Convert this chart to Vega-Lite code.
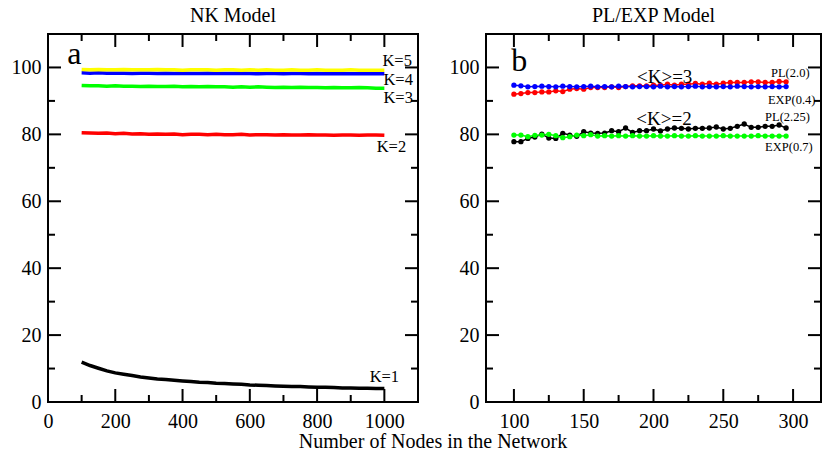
{
  "$schema": "https://vega.github.io/schema/vega-lite/v6.json",
  "padding": {"left": 10, "top": 5, "right": 0, "bottom": 5},
  "spacing": 29,
  "resolve": {"scale": {"color": "independent"}},
  "title": {"text": "Number of Nodes in the Network", "orient": "bottom", "anchor": "middle", "dx": 17, "offset": 0, "fontSize": 20},
  "datasets": {
    "nkx": [{"t":100,"k":"minor"},{"t":200,"k":"major"},{"t":300,"k":"minor"},{"t":400,"k":"major"},{"t":500,"k":"minor"},{"t":600,"k":"major"},{"t":700,"k":"minor"},{"t":800,"k":"major"},{"t":900,"k":"minor"},{"t":1000,"k":"major"}],
    "pex": [{"t":100,"k":"major"},{"t":125,"k":"minor"},{"t":150,"k":"major"},{"t":175,"k":"minor"},{"t":200,"k":"major"},{"t":225,"k":"minor"},{"t":250,"k":"major"},{"t":275,"k":"minor"},{"t":300,"k":"major"}],
    "yt": [{"t":10,"k":"minor"},{"t":20,"k":"major"},{"t":30,"k":"minor"},{"t":40,"k":"major"},{"t":50,"k":"minor"},{"t":60,"k":"major"},{"t":70,"k":"minor"},{"t":80,"k":"major"},{"t":90,"k":"minor"},{"t":100,"k":"major"}],
    "nk": [
      {"N":100,"v":11.9,"s":"K=1"},{"N":125,"v":10.9,"s":"K=1"},{"N":150,"v":10.1,"s":"K=1"},{"N":175,"v":9.3,"s":"K=1"},{"N":200,"v":8.7,"s":"K=1"},{"N":225,"v":8.3,"s":"K=1"},{"N":250,"v":7.9,"s":"K=1"},{"N":275,"v":7.5,"s":"K=1"},{"N":300,"v":7.2,"s":"K=1"},{"N":325,"v":6.9,"s":"K=1"},{"N":350,"v":6.7,"s":"K=1"},{"N":375,"v":6.5,"s":"K=1"},{"N":400,"v":6.3,"s":"K=1"},{"N":425,"v":6.1,"s":"K=1"},{"N":450,"v":5.9,"s":"K=1"},{"N":475,"v":5.8,"s":"K=1"},{"N":500,"v":5.6,"s":"K=1"},{"N":525,"v":5.5,"s":"K=1"},{"N":550,"v":5.4,"s":"K=1"},{"N":575,"v":5.3,"s":"K=1"},{"N":600,"v":5.1,"s":"K=1"},{"N":625,"v":5.0,"s":"K=1"},{"N":650,"v":4.9,"s":"K=1"},{"N":675,"v":4.8,"s":"K=1"},{"N":700,"v":4.7,"s":"K=1"},{"N":725,"v":4.6,"s":"K=1"},{"N":750,"v":4.6,"s":"K=1"},{"N":775,"v":4.5,"s":"K=1"},{"N":800,"v":4.4,"s":"K=1"},{"N":825,"v":4.4,"s":"K=1"},{"N":850,"v":4.3,"s":"K=1"},{"N":875,"v":4.2,"s":"K=1"},{"N":900,"v":4.2,"s":"K=1"},{"N":925,"v":4.1,"s":"K=1"},{"N":950,"v":4.1,"s":"K=1"},{"N":975,"v":4.0,"s":"K=1"},{"N":1000,"v":4.0,"s":"K=1"},
      {"N":100,"v":80.5,"s":"K=2"},{"N":125,"v":80.4,"s":"K=2"},{"N":150,"v":80.3,"s":"K=2"},{"N":175,"v":80.4,"s":"K=2"},{"N":200,"v":80.2,"s":"K=2"},{"N":225,"v":80.3,"s":"K=2"},{"N":250,"v":80.1,"s":"K=2"},{"N":275,"v":80.2,"s":"K=2"},{"N":300,"v":80.0,"s":"K=2"},{"N":325,"v":80.1,"s":"K=2"},{"N":350,"v":80.0,"s":"K=2"},{"N":375,"v":80.1,"s":"K=2"},{"N":400,"v":79.9,"s":"K=2"},{"N":425,"v":80.0,"s":"K=2"},{"N":450,"v":80.0,"s":"K=2"},{"N":475,"v":79.9,"s":"K=2"},{"N":500,"v":80.0,"s":"K=2"},{"N":525,"v":79.9,"s":"K=2"},{"N":550,"v":79.9,"s":"K=2"},{"N":575,"v":80.0,"s":"K=2"},{"N":600,"v":79.8,"s":"K=2"},{"N":625,"v":79.9,"s":"K=2"},{"N":650,"v":79.9,"s":"K=2"},{"N":675,"v":79.8,"s":"K=2"},{"N":700,"v":79.9,"s":"K=2"},{"N":725,"v":79.8,"s":"K=2"},{"N":750,"v":79.8,"s":"K=2"},{"N":775,"v":79.9,"s":"K=2"},{"N":800,"v":79.8,"s":"K=2"},{"N":825,"v":79.8,"s":"K=2"},{"N":850,"v":79.7,"s":"K=2"},{"N":875,"v":79.8,"s":"K=2"},{"N":900,"v":79.8,"s":"K=2"},{"N":925,"v":79.7,"s":"K=2"},{"N":950,"v":79.8,"s":"K=2"},{"N":975,"v":79.8,"s":"K=2"},{"N":1000,"v":79.7,"s":"K=2"},
      {"N":100,"v":94.6,"s":"K=3"},{"N":125,"v":94.5,"s":"K=3"},{"N":150,"v":94.5,"s":"K=3"},{"N":175,"v":94.4,"s":"K=3"},{"N":200,"v":94.5,"s":"K=3"},{"N":225,"v":94.4,"s":"K=3"},{"N":250,"v":94.4,"s":"K=3"},{"N":275,"v":94.3,"s":"K=3"},{"N":300,"v":94.4,"s":"K=3"},{"N":325,"v":94.3,"s":"K=3"},{"N":350,"v":94.3,"s":"K=3"},{"N":375,"v":94.4,"s":"K=3"},{"N":400,"v":94.2,"s":"K=3"},{"N":425,"v":94.3,"s":"K=3"},{"N":450,"v":94.2,"s":"K=3"},{"N":475,"v":94.3,"s":"K=3"},{"N":500,"v":94.2,"s":"K=3"},{"N":525,"v":94.2,"s":"K=3"},{"N":550,"v":94.1,"s":"K=3"},{"N":575,"v":94.2,"s":"K=3"},{"N":600,"v":94.1,"s":"K=3"},{"N":625,"v":94.2,"s":"K=3"},{"N":650,"v":94.1,"s":"K=3"},{"N":675,"v":94.0,"s":"K=3"},{"N":700,"v":94.1,"s":"K=3"},{"N":725,"v":94.0,"s":"K=3"},{"N":750,"v":94.1,"s":"K=3"},{"N":775,"v":94.0,"s":"K=3"},{"N":800,"v":94.0,"s":"K=3"},{"N":825,"v":93.9,"s":"K=3"},{"N":850,"v":94.0,"s":"K=3"},{"N":875,"v":93.9,"s":"K=3"},{"N":900,"v":93.9,"s":"K=3"},{"N":925,"v":94.0,"s":"K=3"},{"N":950,"v":93.9,"s":"K=3"},{"N":975,"v":93.8,"s":"K=3"},{"N":1000,"v":93.8,"s":"K=3"},
      {"N":100,"v":98.4,"s":"K=4"},{"N":125,"v":98.3,"s":"K=4"},{"N":150,"v":98.4,"s":"K=4"},{"N":175,"v":98.3,"s":"K=4"},{"N":200,"v":98.3,"s":"K=4"},{"N":225,"v":98.3,"s":"K=4"},{"N":250,"v":98.2,"s":"K=4"},{"N":275,"v":98.3,"s":"K=4"},{"N":300,"v":98.3,"s":"K=4"},{"N":325,"v":98.2,"s":"K=4"},{"N":350,"v":98.3,"s":"K=4"},{"N":375,"v":98.2,"s":"K=4"},{"N":400,"v":98.3,"s":"K=4"},{"N":425,"v":98.2,"s":"K=4"},{"N":450,"v":98.2,"s":"K=4"},{"N":475,"v":98.3,"s":"K=4"},{"N":500,"v":98.2,"s":"K=4"},{"N":525,"v":98.2,"s":"K=4"},{"N":550,"v":98.2,"s":"K=4"},{"N":575,"v":98.3,"s":"K=4"},{"N":600,"v":98.2,"s":"K=4"},{"N":625,"v":98.1,"s":"K=4"},{"N":650,"v":98.2,"s":"K=4"},{"N":675,"v":98.2,"s":"K=4"},{"N":700,"v":98.1,"s":"K=4"},{"N":725,"v":98.2,"s":"K=4"},{"N":750,"v":98.2,"s":"K=4"},{"N":775,"v":98.1,"s":"K=4"},{"N":800,"v":98.2,"s":"K=4"},{"N":825,"v":98.1,"s":"K=4"},{"N":850,"v":98.1,"s":"K=4"},{"N":875,"v":98.2,"s":"K=4"},{"N":900,"v":98.1,"s":"K=4"},{"N":925,"v":98.1,"s":"K=4"},{"N":950,"v":98.2,"s":"K=4"},{"N":975,"v":98.1,"s":"K=4"},{"N":1000,"v":98.1,"s":"K=4"},
      {"N":100,"v":99.4,"s":"K=5"},{"N":125,"v":99.3,"s":"K=5"},{"N":150,"v":99.4,"s":"K=5"},{"N":175,"v":99.3,"s":"K=5"},{"N":200,"v":99.3,"s":"K=5"},{"N":225,"v":99.4,"s":"K=5"},{"N":250,"v":99.3,"s":"K=5"},{"N":275,"v":99.3,"s":"K=5"},{"N":300,"v":99.3,"s":"K=5"},{"N":325,"v":99.4,"s":"K=5"},{"N":350,"v":99.3,"s":"K=5"},{"N":375,"v":99.3,"s":"K=5"},{"N":400,"v":99.2,"s":"K=5"},{"N":425,"v":99.3,"s":"K=5"},{"N":450,"v":99.3,"s":"K=5"},{"N":475,"v":99.3,"s":"K=5"},{"N":500,"v":99.2,"s":"K=5"},{"N":525,"v":99.3,"s":"K=5"},{"N":550,"v":99.3,"s":"K=5"},{"N":575,"v":99.2,"s":"K=5"},{"N":600,"v":99.3,"s":"K=5"},{"N":625,"v":99.2,"s":"K=5"},{"N":650,"v":99.3,"s":"K=5"},{"N":675,"v":99.2,"s":"K=5"},{"N":700,"v":99.2,"s":"K=5"},{"N":725,"v":99.3,"s":"K=5"},{"N":750,"v":99.2,"s":"K=5"},{"N":775,"v":99.2,"s":"K=5"},{"N":800,"v":99.3,"s":"K=5"},{"N":825,"v":99.2,"s":"K=5"},{"N":850,"v":99.2,"s":"K=5"},{"N":875,"v":99.2,"s":"K=5"},{"N":900,"v":99.3,"s":"K=5"},{"N":925,"v":99.2,"s":"K=5"},{"N":950,"v":99.2,"s":"K=5"},{"N":975,"v":99.2,"s":"K=5"},{"N":1000,"v":99.2,"s":"K=5"}
    ],
    "pe": [
      {"N":100,"v":92.0,"s":"PL(2.0)"},{"N":105,"v":92.2,"s":"PL(2.0)"},{"N":110,"v":92.5,"s":"PL(2.0)"},{"N":115,"v":92.5,"s":"PL(2.0)"},{"N":120,"v":92.7,"s":"PL(2.0)"},{"N":125,"v":92.7,"s":"PL(2.0)"},{"N":130,"v":93.0,"s":"PL(2.0)"},{"N":135,"v":92.8,"s":"PL(2.0)"},{"N":140,"v":93.5,"s":"PL(2.0)"},{"N":145,"v":93.7,"s":"PL(2.0)"},{"N":150,"v":93.5,"s":"PL(2.0)"},{"N":155,"v":94.0,"s":"PL(2.0)"},{"N":160,"v":94.0,"s":"PL(2.0)"},{"N":165,"v":94.0,"s":"PL(2.0)"},{"N":170,"v":94.2,"s":"PL(2.0)"},{"N":175,"v":94.0,"s":"PL(2.0)"},{"N":180,"v":94.3,"s":"PL(2.0)"},{"N":185,"v":94.5,"s":"PL(2.0)"},{"N":190,"v":94.5,"s":"PL(2.0)"},{"N":195,"v":94.5,"s":"PL(2.0)"},{"N":200,"v":94.7,"s":"PL(2.0)"},{"N":205,"v":94.7,"s":"PL(2.0)"},{"N":210,"v":95.0,"s":"PL(2.0)"},{"N":215,"v":94.7,"s":"PL(2.0)"},{"N":220,"v":95.0,"s":"PL(2.0)"},{"N":225,"v":95.0,"s":"PL(2.0)"},{"N":230,"v":95.2,"s":"PL(2.0)"},{"N":235,"v":95.0,"s":"PL(2.0)"},{"N":240,"v":95.3,"s":"PL(2.0)"},{"N":245,"v":95.0,"s":"PL(2.0)"},{"N":250,"v":95.3,"s":"PL(2.0)"},{"N":255,"v":95.5,"s":"PL(2.0)"},{"N":260,"v":95.5,"s":"PL(2.0)"},{"N":265,"v":95.5,"s":"PL(2.0)"},{"N":270,"v":95.7,"s":"PL(2.0)"},{"N":275,"v":95.7,"s":"PL(2.0)"},{"N":280,"v":95.5,"s":"PL(2.0)"},{"N":285,"v":95.5,"s":"PL(2.0)"},{"N":290,"v":95.8,"s":"PL(2.0)"},{"N":295,"v":95.7,"s":"PL(2.0)"},
      {"N":100,"v":94.7,"s":"EXP(0.4)"},{"N":105,"v":94.5,"s":"EXP(0.4)"},{"N":110,"v":94.2,"s":"EXP(0.4)"},{"N":115,"v":94.3,"s":"EXP(0.4)"},{"N":120,"v":94.4,"s":"EXP(0.4)"},{"N":125,"v":94.3,"s":"EXP(0.4)"},{"N":130,"v":94.2,"s":"EXP(0.4)"},{"N":135,"v":94.4,"s":"EXP(0.4)"},{"N":140,"v":94.3,"s":"EXP(0.4)"},{"N":145,"v":94.2,"s":"EXP(0.4)"},{"N":150,"v":94.3,"s":"EXP(0.4)"},{"N":155,"v":94.4,"s":"EXP(0.4)"},{"N":160,"v":94.2,"s":"EXP(0.4)"},{"N":165,"v":94.3,"s":"EXP(0.4)"},{"N":170,"v":94.2,"s":"EXP(0.4)"},{"N":175,"v":94.4,"s":"EXP(0.4)"},{"N":180,"v":94.3,"s":"EXP(0.4)"},{"N":185,"v":94.2,"s":"EXP(0.4)"},{"N":190,"v":94.3,"s":"EXP(0.4)"},{"N":195,"v":94.3,"s":"EXP(0.4)"},{"N":200,"v":94.2,"s":"EXP(0.4)"},{"N":205,"v":94.4,"s":"EXP(0.4)"},{"N":210,"v":94.2,"s":"EXP(0.4)"},{"N":215,"v":94.3,"s":"EXP(0.4)"},{"N":220,"v":94.2,"s":"EXP(0.4)"},{"N":225,"v":94.3,"s":"EXP(0.4)"},{"N":230,"v":94.4,"s":"EXP(0.4)"},{"N":235,"v":94.2,"s":"EXP(0.4)"},{"N":240,"v":94.3,"s":"EXP(0.4)"},{"N":245,"v":94.2,"s":"EXP(0.4)"},{"N":250,"v":94.3,"s":"EXP(0.4)"},{"N":255,"v":94.2,"s":"EXP(0.4)"},{"N":260,"v":94.4,"s":"EXP(0.4)"},{"N":265,"v":94.3,"s":"EXP(0.4)"},{"N":270,"v":94.2,"s":"EXP(0.4)"},{"N":275,"v":94.3,"s":"EXP(0.4)"},{"N":280,"v":94.2,"s":"EXP(0.4)"},{"N":285,"v":94.3,"s":"EXP(0.4)"},{"N":290,"v":94.2,"s":"EXP(0.4)"},{"N":295,"v":94.3,"s":"EXP(0.4)"},
      {"N":100,"v":77.8,"s":"PL(2.25)"},{"N":105,"v":77.8,"s":"PL(2.25)"},{"N":110,"v":78.8,"s":"PL(2.25)"},{"N":115,"v":79.2,"s":"PL(2.25)"},{"N":120,"v":80.1,"s":"PL(2.25)"},{"N":125,"v":78.9,"s":"PL(2.25)"},{"N":130,"v":78.8,"s":"PL(2.25)"},{"N":135,"v":80.3,"s":"PL(2.25)"},{"N":140,"v":79.8,"s":"PL(2.25)"},{"N":145,"v":79.4,"s":"PL(2.25)"},{"N":150,"v":80.8,"s":"PL(2.25)"},{"N":155,"v":80.4,"s":"PL(2.25)"},{"N":160,"v":80.3,"s":"PL(2.25)"},{"N":165,"v":80.4,"s":"PL(2.25)"},{"N":170,"v":81.1,"s":"PL(2.25)"},{"N":175,"v":80.8,"s":"PL(2.25)"},{"N":180,"v":81.9,"s":"PL(2.25)"},{"N":185,"v":80.6,"s":"PL(2.25)"},{"N":190,"v":81.1,"s":"PL(2.25)"},{"N":195,"v":81.1,"s":"PL(2.25)"},{"N":200,"v":81.6,"s":"PL(2.25)"},{"N":205,"v":81.0,"s":"PL(2.25)"},{"N":210,"v":81.6,"s":"PL(2.25)"},{"N":215,"v":81.9,"s":"PL(2.25)"},{"N":220,"v":81.8,"s":"PL(2.25)"},{"N":225,"v":81.6,"s":"PL(2.25)"},{"N":230,"v":81.8,"s":"PL(2.25)"},{"N":235,"v":81.8,"s":"PL(2.25)"},{"N":240,"v":81.9,"s":"PL(2.25)"},{"N":245,"v":82.2,"s":"PL(2.25)"},{"N":250,"v":81.6,"s":"PL(2.25)"},{"N":255,"v":81.8,"s":"PL(2.25)"},{"N":260,"v":82.4,"s":"PL(2.25)"},{"N":265,"v":83.1,"s":"PL(2.25)"},{"N":270,"v":82.1,"s":"PL(2.25)"},{"N":275,"v":82.1,"s":"PL(2.25)"},{"N":280,"v":82.4,"s":"PL(2.25)"},{"N":285,"v":82.4,"s":"PL(2.25)"},{"N":290,"v":82.8,"s":"PL(2.25)"},{"N":295,"v":81.9,"s":"PL(2.25)"},
      {"N":100,"v":79.8,"s":"EXP(0.7)"},{"N":105,"v":79.8,"s":"EXP(0.7)"},{"N":110,"v":79.3,"s":"EXP(0.7)"},{"N":115,"v":79.7,"s":"EXP(0.7)"},{"N":120,"v":79.8,"s":"EXP(0.7)"},{"N":125,"v":80.0,"s":"EXP(0.7)"},{"N":130,"v":79.6,"s":"EXP(0.7)"},{"N":135,"v":79.0,"s":"EXP(0.7)"},{"N":140,"v":79.3,"s":"EXP(0.7)"},{"N":145,"v":79.8,"s":"EXP(0.7)"},{"N":150,"v":79.6,"s":"EXP(0.7)"},{"N":155,"v":79.9,"s":"EXP(0.7)"},{"N":160,"v":79.5,"s":"EXP(0.7)"},{"N":165,"v":79.6,"s":"EXP(0.7)"},{"N":170,"v":79.5,"s":"EXP(0.7)"},{"N":175,"v":79.6,"s":"EXP(0.7)"},{"N":180,"v":79.5,"s":"EXP(0.7)"},{"N":185,"v":79.6,"s":"EXP(0.7)"},{"N":190,"v":79.5,"s":"EXP(0.7)"},{"N":195,"v":79.5,"s":"EXP(0.7)"},{"N":200,"v":79.6,"s":"EXP(0.7)"},{"N":205,"v":79.5,"s":"EXP(0.7)"},{"N":210,"v":79.5,"s":"EXP(0.7)"},{"N":215,"v":79.6,"s":"EXP(0.7)"},{"N":220,"v":79.5,"s":"EXP(0.7)"},{"N":225,"v":79.5,"s":"EXP(0.7)"},{"N":230,"v":79.6,"s":"EXP(0.7)"},{"N":235,"v":79.5,"s":"EXP(0.7)"},{"N":240,"v":79.5,"s":"EXP(0.7)"},{"N":245,"v":79.5,"s":"EXP(0.7)"},{"N":250,"v":79.6,"s":"EXP(0.7)"},{"N":255,"v":79.5,"s":"EXP(0.7)"},{"N":260,"v":79.5,"s":"EXP(0.7)"},{"N":265,"v":79.5,"s":"EXP(0.7)"},{"N":270,"v":79.5,"s":"EXP(0.7)"},{"N":275,"v":79.6,"s":"EXP(0.7)"},{"N":280,"v":79.5,"s":"EXP(0.7)"},{"N":285,"v":79.5,"s":"EXP(0.7)"},{"N":290,"v":79.5,"s":"EXP(0.7)"},{"N":295,"v":79.5,"s":"EXP(0.7)"}
    ]
  },
  "hconcat": [
    {
      "width": 370,
      "height": 368,
      "title": {"text": "NK Model", "offset": 8},
      "layer": [
        {
          "data": {"name": "nk"},
          "mark": {"type": "line", "strokeWidth": 3.5},
          "encoding": {
            "x": {"field": "N", "type": "quantitative", "title": null, "scale": {"domain": [0, 1100], "nice": false, "padding": 0, "zero": false},
              "axis": {"orient": "bottom", "title": null, "values": [0,200,400,600,800,1000], "format": "d", "labelPadding": 9}},
            "y": {"field": "v", "type": "quantitative", "title": null, "scale": {"domain": [0, 110], "nice": false, "padding": 0, "zero": false},
              "axis": {"orient": "left", "title": null, "values": [0,20,40,60,80,100], "format": "d", "labelPadding": 7}},
            "color": {"field": "s", "type": "nominal", "legend": null,
              "scale": {"domain": ["K=1","K=2","K=3","K=4","K=5"], "range": ["#000000","#ff0000","#00ff00","#0000ff","#ffff00"]}},
            "order": {"field": "N", "type": "quantitative"}
          }
        },
        {
          "data": {"name": "nkx"}, "transform": [{"filter": "datum.k == 'major'"}],
          "mark": {"type": "bar", "orient": "vertical", "width": 2, "color": "black"},
          "encoding": {"x": {"field": "t", "type": "quantitative", "title": null}, "y": {"datum": 0, "type": "quantitative", "title": null}, "y2": {"datum": 3.886}}
        },
        {
          "data": {"name": "nkx"}, "transform": [{"filter": "datum.k == 'major'"}],
          "mark": {"type": "bar", "orient": "vertical", "width": 2, "color": "black"},
          "encoding": {"x": {"field": "t", "type": "quantitative", "title": null}, "y": {"datum": 106.114, "type": "quantitative", "title": null}, "y2": {"datum": 110}}
        },
        {
          "data": {"name": "nkx"}, "transform": [{"filter": "datum.k == 'minor'"}],
          "mark": {"type": "bar", "orient": "vertical", "width": 2, "color": "black"},
          "encoding": {"x": {"field": "t", "type": "quantitative", "title": null}, "y": {"datum": 0, "type": "quantitative", "title": null}, "y2": {"datum": 2.092}}
        },
        {
          "data": {"name": "nkx"}, "transform": [{"filter": "datum.k == 'minor'"}],
          "mark": {"type": "bar", "orient": "vertical", "width": 2, "color": "black"},
          "encoding": {"x": {"field": "t", "type": "quantitative", "title": null}, "y": {"datum": 107.908, "type": "quantitative", "title": null}, "y2": {"datum": 110}}
        },
        {
          "data": {"name": "yt"}, "transform": [{"filter": "datum.k == 'major'"}],
          "mark": {"type": "bar", "orient": "horizontal", "height": 2, "color": "black"},
          "encoding": {"y": {"field": "t", "type": "quantitative", "title": null}, "x": {"datum": 0, "type": "quantitative", "title": null}, "x2": {"datum": 38.65}}
        },
        {
          "data": {"name": "yt"}, "transform": [{"filter": "datum.k == 'major'"}],
          "mark": {"type": "bar", "orient": "horizontal", "height": 2, "color": "black"},
          "encoding": {"y": {"field": "t", "type": "quantitative", "title": null}, "x": {"datum": 1061.35, "type": "quantitative", "title": null}, "x2": {"datum": 1100}}
        },
        {
          "data": {"name": "yt"}, "transform": [{"filter": "datum.k == 'minor'"}],
          "mark": {"type": "bar", "orient": "horizontal", "height": 2, "color": "black"},
          "encoding": {"y": {"field": "t", "type": "quantitative", "title": null}, "x": {"datum": 0, "type": "quantitative", "title": null}, "x2": {"datum": 20.81}}
        },
        {
          "data": {"name": "yt"}, "transform": [{"filter": "datum.k == 'minor'"}],
          "mark": {"type": "bar", "orient": "horizontal", "height": 2, "color": "black"},
          "encoding": {"y": {"field": "t", "type": "quantitative", "title": null}, "x": {"datum": 1079.19, "type": "quantitative", "title": null}, "x2": {"datum": 1100}}
        },
        {
          "data": {"values": [
            {"N": 1038, "v": 102, "t": "K=5"},
            {"N": 1041, "v": 96.3, "t": "K=4"},
            {"N": 1041, "v": 90.8, "t": "K=3"},
            {"N": 1021, "v": 76.2, "t": "K=2"},
            {"N": 1000, "v": 7.5, "t": "K=1"}
          ]},
          "mark": {"type": "text", "fontSize": 16.5, "align": "center", "baseline": "middle", "color": "black"},
          "encoding": {
            "x": {"field": "N", "type": "quantitative", "title": null},
            "y": {"field": "v", "type": "quantitative", "title": null},
            "text": {"field": "t"}
          }
        },
        {
          "data": {"values": [{"N": 78, "v": 104, "t": "a"}]},
          "mark": {"type": "text", "fontSize": 32, "align": "center", "baseline": "middle", "color": "black"},
          "encoding": {
            "x": {"field": "N", "type": "quantitative", "title": null},
            "y": {"field": "v", "type": "quantitative", "title": null},
            "text": {"field": "t"}
          }
        }
      ]
    },
    {
      "width": 335,
      "height": 368,
      "title": {"text": "PL/EXP Model", "offset": 8},
      "layer": [
        {
          "data": {"name": "pe"},
          "mark": {"type": "line", "strokeWidth": 1.5},
          "encoding": {
            "x": {"field": "N", "type": "quantitative", "title": null, "scale": {"domain": [80, 320], "nice": false, "padding": 0, "zero": false},
              "axis": {"orient": "bottom", "title": null, "values": [100,150,200,250,300], "format": "d", "labelPadding": 9}},
            "y": {"field": "v", "type": "quantitative", "title": null, "scale": {"domain": [0, 110], "nice": false, "padding": 0, "zero": false},
              "axis": {"orient": "left", "title": null, "values": [0,20,40,60,80,100], "format": "d", "labelPadding": 7}},
            "color": {"field": "s", "type": "nominal", "legend": null,
              "scale": {"domain": ["PL(2.0)","EXP(0.4)","PL(2.25)","EXP(0.7)"], "range": ["#ff0000","#0000ff","#000000","#00ff00"]}},
            "order": {"field": "N", "type": "quantitative"}
          }
        },
        {
          "data": {"name": "pe"},
          "mark": {"type": "point", "filled": true, "size": 28, "opacity": 1},
          "encoding": {
            "x": {"field": "N", "type": "quantitative", "title": null},
            "y": {"field": "v", "type": "quantitative", "title": null},
            "color": {"field": "s", "type": "nominal", "legend": null,
              "scale": {"domain": ["PL(2.0)","EXP(0.4)","PL(2.25)","EXP(0.7)"], "range": ["#ff0000","#0000ff","#000000","#00ff00"]}}
          }
        },
        {
          "data": {"name": "pex"}, "transform": [{"filter": "datum.k == 'major'"}],
          "mark": {"type": "bar", "orient": "vertical", "width": 2, "color": "black"},
          "encoding": {"x": {"field": "t", "type": "quantitative", "title": null}, "y": {"datum": 0, "type": "quantitative", "title": null}, "y2": {"datum": 3.886}}
        },
        {
          "data": {"name": "pex"}, "transform": [{"filter": "datum.k == 'major'"}],
          "mark": {"type": "bar", "orient": "vertical", "width": 2, "color": "black"},
          "encoding": {"x": {"field": "t", "type": "quantitative", "title": null}, "y": {"datum": 106.114, "type": "quantitative", "title": null}, "y2": {"datum": 110}}
        },
        {
          "data": {"name": "pex"}, "transform": [{"filter": "datum.k == 'minor'"}],
          "mark": {"type": "bar", "orient": "vertical", "width": 2, "color": "black"},
          "encoding": {"x": {"field": "t", "type": "quantitative", "title": null}, "y": {"datum": 0, "type": "quantitative", "title": null}, "y2": {"datum": 2.092}}
        },
        {
          "data": {"name": "pex"}, "transform": [{"filter": "datum.k == 'minor'"}],
          "mark": {"type": "bar", "orient": "vertical", "width": 2, "color": "black"},
          "encoding": {"x": {"field": "t", "type": "quantitative", "title": null}, "y": {"datum": 107.908, "type": "quantitative", "title": null}, "y2": {"datum": 110}}
        },
        {
          "data": {"name": "yt"}, "transform": [{"filter": "datum.k == 'major'"}],
          "mark": {"type": "bar", "orient": "horizontal", "height": 2, "color": "black"},
          "encoding": {"y": {"field": "t", "type": "quantitative", "title": null}, "x": {"datum": 80, "type": "quantitative", "title": null}, "x2": {"datum": 89.31}}
        },
        {
          "data": {"name": "yt"}, "transform": [{"filter": "datum.k == 'major'"}],
          "mark": {"type": "bar", "orient": "horizontal", "height": 2, "color": "black"},
          "encoding": {"y": {"field": "t", "type": "quantitative", "title": null}, "x": {"datum": 310.69, "type": "quantitative", "title": null}, "x2": {"datum": 320}}
        },
        {
          "data": {"name": "yt"}, "transform": [{"filter": "datum.k == 'minor'"}],
          "mark": {"type": "bar", "orient": "horizontal", "height": 2, "color": "black"},
          "encoding": {"y": {"field": "t", "type": "quantitative", "title": null}, "x": {"datum": 80, "type": "quantitative", "title": null}, "x2": {"datum": 85.01}}
        },
        {
          "data": {"name": "yt"}, "transform": [{"filter": "datum.k == 'minor'"}],
          "mark": {"type": "bar", "orient": "horizontal", "height": 2, "color": "black"},
          "encoding": {"y": {"field": "t", "type": "quantitative", "title": null}, "x": {"datum": 314.99, "type": "quantitative", "title": null}, "x2": {"datum": 320}}
        },
        {
          "data": {"values": [
            {"N": 208, "v": 97.1, "t": "<K>=3"},
            {"N": 207.5, "v": 84.6, "t": "<K>=2"}
          ]},
          "mark": {"type": "text", "fontSize": 19, "align": "center", "baseline": "middle", "color": "black"},
          "encoding": {
            "x": {"field": "N", "type": "quantitative", "title": null},
            "y": {"field": "v", "type": "quantitative", "title": null},
            "text": {"field": "t"}
          }
        },
        {
          "data": {"values": [
            {"N": 298, "v": 98.3, "t": "PL(2.0)"},
            {"N": 299, "v": 90.2, "t": "EXP(0.4)"},
            {"N": 296, "v": 85.1, "t": "PL(2.25)"},
            {"N": 297, "v": 76.2, "t": "EXP(0.7)"}
          ]},
          "mark": {"type": "text", "fontSize": 12.5, "align": "center", "baseline": "middle", "color": "black"},
          "encoding": {
            "x": {"field": "N", "type": "quantitative", "title": null},
            "y": {"field": "v", "type": "quantitative", "title": null},
            "text": {"field": "t"}
          }
        },
        {
          "data": {"values": [{"N": 103.8, "v": 101.9, "t": "b"}]},
          "mark": {"type": "text", "fontSize": 32, "align": "center", "baseline": "middle", "color": "black"},
          "encoding": {
            "x": {"field": "N", "type": "quantitative", "title": null},
            "y": {"field": "v", "type": "quantitative", "title": null},
            "text": {"field": "t"}
          }
        }
      ]
    }
  ],
  "config": {
    "font": "Liberation Serif",
    "background": "white",
    "view": {"stroke": "black", "strokeWidth": 2},
    "axis": {"labelFont": "Liberation Serif", "labelFontSize": 20, "labelColor": "black", "ticks": false, "grid": false,
      "domain": false, "labelFlush": false, "labelOverlap": false},
    "title": {"font": "Liberation Serif", "fontSize": 20, "fontWeight": "normal", "color": "black", "anchor": "middle"},
    "text": {"font": "Liberation Serif"}
  }
}
